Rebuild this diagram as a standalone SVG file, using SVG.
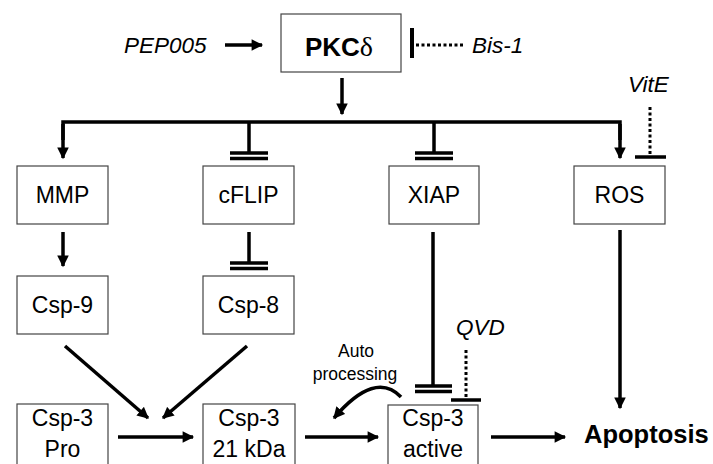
<svg xmlns="http://www.w3.org/2000/svg" width="713" height="464" viewBox="0 0 713 464">
<defs>
<marker id="ah" viewBox="0 0 10 10" refX="9" refY="5" markerWidth="3.5" markerHeight="3.3" markerUnits="strokeWidth" orient="auto">
<path d="M0,0 L10,5 L0,10 z" fill="#000"/>
</marker>
</defs>
<style>
.box{fill:#fff;stroke:#444;stroke-width:1.2}
.t{font-family:"Liberation Sans",Arial,sans-serif;font-size:23px;fill:#000;text-anchor:middle}
.it{font-family:"Liberation Sans",Arial,sans-serif;font-size:22.5px;font-style:italic;fill:#000}
.ln{stroke:#000;stroke-width:3.5;fill:none}
.arr{stroke:#000;stroke-width:3.5;fill:none;marker-end:url(#ah)}
.dot{stroke:#000;stroke-width:3;fill:none;stroke-dasharray:3 2.5}
.bar{stroke:#000;stroke-width:3.5}
</style>
<rect width="713" height="464" fill="#fff"/>
<g id="connectors">
<line class="arr" x1="225" y1="45" x2="262" y2="45"/>
<line class="dot" x1="416" y1="45" x2="463" y2="45"/>
<line class="bar" x1="412" y1="28" x2="412" y2="58" style="stroke-width:4"/>
<line class="arr" x1="342" y1="78" x2="342" y2="114"/>
<polyline class="ln" points="63,140 63,122 620,122 620,140"/>
<line class="arr" x1="63" y1="124" x2="63" y2="158"/>
<line class="arr" x1="620" y1="124" x2="620" y2="158"/>
<line class="ln" x1="249" y1="122" x2="249" y2="153"/>
<line class="bar" x1="230" y1="153" x2="268" y2="153"/>
<line class="bar" x1="230" y1="158.5" x2="268" y2="158.5"/>
<line class="ln" x1="434" y1="122" x2="434" y2="153"/>
<line class="bar" x1="415" y1="153" x2="453" y2="153"/>
<line class="bar" x1="415" y1="158.5" x2="453" y2="158.5"/>
<line class="dot" x1="650" y1="107" x2="650" y2="155"/>
<line class="bar" x1="635" y1="157" x2="666" y2="157"/>
<line class="arr" x1="63" y1="232" x2="63" y2="266"/>
<line class="ln" x1="249" y1="232" x2="249" y2="263"/>
<line class="bar" x1="230" y1="263" x2="268" y2="263"/>
<line class="bar" x1="230" y1="268.5" x2="268" y2="268.5"/>
<line class="ln" x1="433" y1="232" x2="433" y2="386"/>
<line class="bar" x1="415" y1="386" x2="452" y2="386"/>
<line class="bar" x1="415" y1="391.5" x2="452" y2="391.5"/>
<line class="dot" x1="466" y1="350" x2="466" y2="398"/>
<line class="bar" x1="451" y1="400" x2="481" y2="400"/>
<line class="arr" x1="620" y1="230" x2="620" y2="408"/>
<line class="arr" x1="65" y1="346" x2="148" y2="418"/>
<line class="arr" x1="247" y1="346" x2="163" y2="418"/>
<line class="arr" x1="118" y1="437" x2="193" y2="437"/>
<line class="arr" x1="305" y1="437" x2="378" y2="437"/>
<line class="arr" x1="491" y1="437" x2="565" y2="437"/>
<path class="arr" d="M401,397 Q375,370 334,418"/>
</g>
<g id="pkc"><rect class="box" x="281" y="14" width="120" height="58"/><text x="339" y="56" style="font-family:'Liberation Sans',Arial,sans-serif;font-size:26px;font-weight:bold;text-anchor:middle">PKC<tspan style="font-family:'Liberation Serif','Times New Roman',serif;font-weight:normal;font-size:28px">δ</tspan></text></g>
<g id="pep005"><text class="it" x="124" y="53">PEP005</text></g>
<g id="bis1"><text class="it" x="472" y="53">Bis-1</text></g>
<g id="vite"><text class="it" x="628" y="92">VitE</text></g>
<g id="qvd"><text class="it" x="456" y="335">QVD</text></g>
<g id="mmp"><rect class="box" x="17" y="166" width="91" height="58"/><text class="t" x="62.5" y="203">MMP</text></g>
<g id="cflip"><rect class="box" x="203" y="166" width="91" height="58"/><text class="t" x="248.5" y="203">cFLIP</text></g>
<g id="xiap"><rect class="box" x="389" y="166" width="90" height="58"/><text class="t" x="434" y="203">XIAP</text></g>
<g id="ros"><rect class="box" x="574" y="166" width="91" height="58"/><text class="t" x="619.5" y="203">ROS</text></g>
<g id="csp9"><rect class="box" x="17" y="276" width="91" height="58"/><text class="t" x="62.5" y="313">Csp-9</text></g>
<g id="csp8"><rect class="box" x="203" y="276" width="91" height="58"/><text class="t" x="248.5" y="313">Csp-8</text></g>
<g id="csp3pro"><rect class="box" x="17" y="404" width="91" height="70"/><text class="t" x="62.5" y="426">Csp-3</text><text class="t" x="62.5" y="457">Pro</text></g>
<g id="csp3_21"><rect class="box" x="203" y="404" width="92" height="70"/><text class="t" x="249" y="426">Csp-3</text><text class="t" x="249" y="457">21 kDa</text></g>
<g id="csp3act"><rect class="box" x="388" y="405" width="90" height="70"/><text class="t" x="433" y="426">Csp-3</text><text class="t" x="433" y="457">active</text></g>
<g id="auto"><text class="t" x="356" y="357" style="font-size:17.5px">Auto</text><text class="t" x="355" y="380" style="font-size:17.5px">processing</text></g>
<g id="apoptosis"><text x="584" y="443" style="font-family:'Liberation Sans',Arial,sans-serif;font-size:25.5px;font-weight:bold;fill:#000">Apoptosis</text></g>
</svg>
